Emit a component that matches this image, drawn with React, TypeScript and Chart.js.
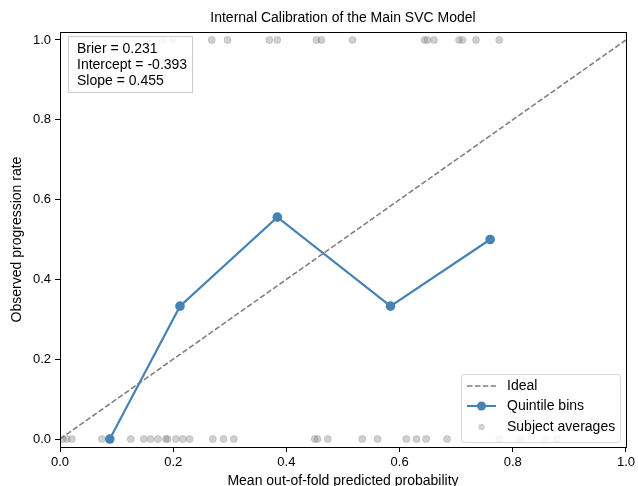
import React, { useEffect, useRef } from "react";
import { Chart, registerables } from "chart.js";

Chart.register(...registerables);

const titleText = "Internal Calibration of the Main SVC Model";
const xLabel = "Mean out-of-fold predicted probability";
const yLabel = "Observed progression rate";
const statLines = ["Brier = 0.231", "Intercept = -0.393", "Slope = 0.455"];
const legendLabels = ["Ideal", "Quintile bins", "Subject averages"];

const idealX = [0, 1];
const idealY = [0, 1];

const binX = [0.088, 0.212, 0.384, 0.584, 0.76];
const binY = [0.0, 0.333, 0.556, 0.333, 0.5];

const subjPosX = [0.182, 0.199, 0.268, 0.296, 0.37, 0.384, 0.453, 0.462, 0.517, 0.644, 0.649, 0.661, 0.705, 0.711, 0.735, 0.776];
const subjNegX = [0.005, 0.012, 0.021, 0.074, 0.088, 0.125, 0.148, 0.16, 0.173, 0.187, 0.19, 0.205, 0.217, 0.229, 0.27, 0.289, 0.307, 0.45, 0.455, 0.473, 0.534, 0.561, 0.612, 0.63, 0.647, 0.684, 0.776, 0.813, 0.857, 0.878];

const tickVals = [0, 0.2, 0.4, 0.6, 0.8, 1.0];

const FONT = "'Liberation Sans', Arial, sans-serif";
const BLUE = "#4682b4";
const GRAY_PT = "rgba(128,128,128,0.36)";

export default function App() {
  const ref = useRef<HTMLCanvasElement | null>(null);
  useEffect(() => {
    const canvas = ref.current!;
    const subjData = [
      ...subjPosX.map((x) => ({ x, y: 1 })),
      ...subjNegX.map((x) => ({ x, y: 0 })),
    ];
    const overlay = {
      id: "overlay",
      afterDraw(chart: any) {
        const ctx = chart.ctx;
        const a = chart.chartArea;
        ctx.save();
        ctx.strokeStyle = "#000";
        ctx.lineWidth = 1;
        ctx.strokeRect(Math.round(a.left) + 0.5, Math.round(a.top) + 0.5, Math.round(a.right - a.left), Math.round(a.bottom - a.top));
        ctx.fillStyle = "#000";
        ctx.font = `14px ${FONT}`;
        ctx.textAlign = "center";
        ctx.textBaseline = "middle";
        ctx.fillText(titleText, (a.left + a.right) / 2, 18);
        ctx.font = `14px ${FONT}`;
        ctx.fillText(xLabel, (a.left + a.right) / 2, 481);
        ctx.save();
        ctx.translate(17, (a.top + a.bottom) / 2);
        ctx.rotate(-Math.PI / 2);
        ctx.fillText(yLabel, 0, 0);
        ctx.restore();
        // stat box
        ctx.fillStyle = "rgba(255,255,255,0.85)";
        ctx.fillRect(68.5, 36.5, 124, 56);
        ctx.strokeStyle = "#cccccc";
        ctx.strokeRect(68.5, 36.5, 124, 56);
        ctx.fillStyle = "#000";
        ctx.textAlign = "left";
        ctx.font = `14px ${FONT}`;
        statLines.forEach((t, i) => ctx.fillText(t, 77, 49 + i * 16));
        // legend
        const lx = 461.5, ly = 374.5, lw = 159, lh = 68;
        ctx.fillStyle = "rgba(255,255,255,0.85)";
        ctx.beginPath();
        ctx.roundRect(lx, ly, lw, lh, 3);
        ctx.fill();
        ctx.strokeStyle = "#d6d6d6";
        ctx.stroke();
        const rows = [386, 406, 427];
        ctx.strokeStyle = "#808080";
        ctx.lineWidth = 1.5;
        ctx.setLineDash([5.5, 2.4]);
        ctx.beginPath();
        ctx.moveTo(467, rows[0]);
        ctx.lineTo(496, rows[0]);
        ctx.stroke();
        ctx.setLineDash([]);
        ctx.strokeStyle = BLUE;
        ctx.lineWidth = 2;
        ctx.beginPath();
        ctx.moveTo(467, rows[1]);
        ctx.lineTo(496, rows[1]);
        ctx.stroke();
        ctx.fillStyle = BLUE;
        ctx.beginPath();
        ctx.arc(481.5, rows[1], 4.5, 0, Math.PI * 2);
        ctx.fill();
        ctx.fillStyle = GRAY_PT;
        ctx.beginPath();
        ctx.arc(481.5, rows[2], 3.2, 0, Math.PI * 2);
        ctx.fill();
        ctx.fillStyle = "#000";
        ctx.font = `14px ${FONT}`;
        legendLabels.forEach((t, i) => ctx.fillText(t, 507, rows[i]));
        ctx.restore();
      },
    };
    const chart = new Chart(canvas, {
      type: "scatter",
      data: {
        datasets: [
          {
            label: legendLabels[1],
            data: binX.map((x, i) => ({ x, y: binY[i] })),
            showLine: true,
            borderColor: BLUE,
            backgroundColor: BLUE,
            borderWidth: 2.2,
            pointRadius: 4.8,
            pointBorderWidth: 0,
            order: 1,
          },
          {
            label: legendLabels[0],
            data: idealX.map((x, i) => ({ x, y: idealY[i] })),
            showLine: true,
            borderColor: "#808080",
            borderWidth: 1.6,
            borderDash: [5.5, 2.4],
            pointRadius: 0,
            order: 2,
          },
          {
            label: legendLabels[2],
            data: subjData,
            backgroundColor: GRAY_PT,
            borderColor: "rgba(110,110,110,0.3)",
            borderWidth: 0.8,
            pointRadius: 3.5,
            order: 3,
          },
        ],
      },
      options: {
        responsive: false,
        animation: false,
        layout: { padding: { top: 32, right: 11, left: 0, bottom: 0 } },
        plugins: { legend: { display: false }, tooltip: { enabled: false }, title: { display: false } },
        scales: {
          x: {
            type: "linear",
            min: 0,
            max: 1,
            afterBuildTicks: (s: any) => { s.ticks = tickVals.map((v) => ({ value: v })); },
            afterFit: (s: any) => { s.height = 39; },
            ticks: {
              color: "#000",
              font: { size: 13, family: FONT },
              padding: 3,
              maxRotation: 0,
              callback: (v: any) => Number(v).toFixed(1),
            },
            grid: { display: true, drawOnChartArea: false, tickLength: 5, tickColor: "#000" },
            border: { display: true, color: "#000" },
          },
          y: {
            type: "linear",
            min: -0.02,
            max: 1.02,
            afterBuildTicks: (s: any) => { s.ticks = tickVals.map((v) => ({ value: v })); },
            afterFit: (s: any) => { s.width = 60; },
            ticks: {
              color: "#000",
              font: { size: 13, family: FONT },
              padding: 4,
              callback: (v: any) => Number(v).toFixed(1),
            },
            grid: { display: true, drawOnChartArea: false, tickLength: 5, tickColor: "#000" },
            border: { display: true, color: "#000" },
          },
        },
      },
      plugins: [overlay],
    } as any);
    return () => chart.destroy();
  }, []);
  return (
    <div style={{ position: "fixed", left: 0, top: 0, width: 638, height: 486, background: "#fff" }}>
      <canvas ref={ref} width={638} height={486} style={{ display: "block", width: 638, height: 486 }} />
    </div>
  );
}
